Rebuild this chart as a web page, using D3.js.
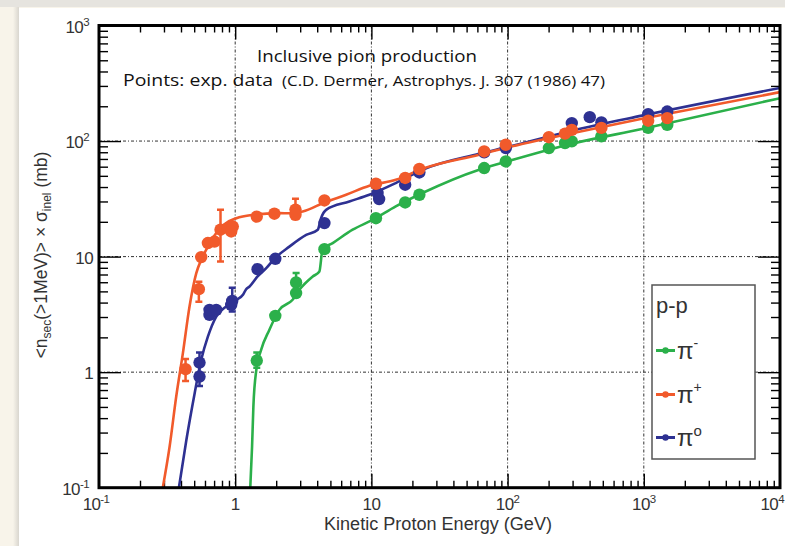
<!DOCTYPE html>
<html><head><meta charset="utf-8">
<script src="https://cdn.jsdelivr.net/npm/d3@7"></script>
<style>body{margin:0;background:#f8f4ea;overflow:hidden} svg{display:block}</style>
</head><body><svg id="c" width="785" height="546"></svg>
<script>
// ---------- DATA ----------
const xTickValues = [0.1, 1, 10, 100, 1000, 10000];
const xTickLabels = [["10","-1"],["1",""],["10",""],["10","2"],["10","3"],["10","4"]];
const yTickValues = [0.1, 1, 10, 100, 1000];
const yTickLabels = [["10","-1"],["1",""],["10",""],["10","2"],["10","3"]];

// model curves (kinetic energy GeV, value mb)
const piPlusCurveE  = [0.294,0.330,0.369,0.413,0.462,0.518,0.563,0.630,0.726,0.859,1.02,1.35,2.11,2.50,3.13,4.52,6.52,9.66,15.1,23.7,61.8,97.5,297,968,10000];
const piPlusCurveV  = [0.1,0.227,0.615,1.46,3.70,7.20,9.38,12.2,16.0,19.5,21.5,23.0,23.8,23.7,24.6,29.4,34.3,41.0,46.2,57.5,76.1,87.5,117,156,265];
const piZeroCurveE  = [0.386,0.438,0.504,0.563,0.630,0.726,0.859,1.02,1.14,1.20,1.27,1.46,1.69,1.96,2.50,3.32,4.04,4.27,4.65,6.89,9.66,15.1,23.7,61.8,97.5,297,968,10000];
const piZeroCurveV  = [0.1,0.259,0.658,1.28,2.03,3.03,3.70,4.23,4.67,5.2,5.48,6.73,7.94,9.71,12.2,15.4,17.1,21.5,25.4,30.0,34.3,43.3,56.5,77.6,88.3,123,166,288];
const piMinusCurveE = [1.29,1.33,1.36,1.43,1.55,1.78,2.11,2.64,2.96,3.71,4.15,4.38,5.20,7.28,10.2,15.1,23.7,61.8,97.5,297,968,10000];
const piMinusCurveV = [0.1,0.227,0.504,1.05,1.56,2.32,3.46,4.23,5.16,6.73,7.43,11.5,13.1,17.1,20.8,27.2,35.5,56.5,66.2,94.8,127,235];

// experimental points
const piPlusE  = [0.432,0.541,0.563,0.630,0.705,0.780,0.883,0.960,0.935,1.44,1.94,2.77,2.77,4.52,10.8,17.7,22.5,67.3,97.0,201,264,296,488,1077,1486];
const piPlusV  = [1.06,5.23,9.9,13.1,13.5,17.1,17.7,18.2,16.5,22.2,23.5,25.5,23.0,30.6,42.7,47.9,57.3,81.3,92.9,108,116,125,130,150,158];
const piPlusErrE  = [0.432,0.541,0.780,2.77];
const piPlusErrLo = [0.84,4.06,9.07,21.2];
const piPlusErrHi = [1.30,6.05,25.4,31.7];

const piZeroE  = [0.547,0.547,0.648,0.648,0.726,0.951,0.935,1.46,1.97,4.52,11.1,11.4,17.7,22.5,67.3,97,296,401,488,1077,1486];
const piZeroV  = [1.21,0.916,3.13,3.46,3.46,4.14,3.83,7.79,9.57,19.5,35.5,31.5,41.9,53.5,80,86.9,143,161,145,171,180];
const piZeroErrE  = [0.547,0.951,401];
const piZeroErrLo = [0.76,3.35,150];
const piZeroErrHi = [1.48,5.37,172];

const piMinusE = [1.44,1.97,2.80,2.80,4.52,10.8,17.7,22.5,67.3,97,201,264,296,488,1077,1486];
const piMinusV = [1.26,3.07,5.97,4.83,11.6,21.5,29.4,34.3,58.4,66.6,86.9,96.1,99.3,110,130,138];
const piMinusErrE  = [1.44,2.80];
const piMinusErrLo = [1.09,5.5];
const piMinusErrHi = [1.48,7.2];

const colors = {minus:"#2bb04a", plus:"#f15a2b", zero:"#2e3192"};

// ---------- LAYOUT ----------
const X0 = 99, X1 = 780, Y0 = 25.5, Y1 = 487.7;
const svg = d3.select("#c");
const x = d3.scaleLog().domain([0.1, 1e4]).range([X0, X1]);
const y = d3.scaleLog().domain([0.1, 1000]).range([Y1, Y0]);

// background / panel
const defs = svg.append("defs");
const g1 = defs.append("linearGradient").attr("id","sh").attr("x1","0").attr("x2","1");
g1.append("stop").attr("offset","0").attr("stop-color","#f8f4ea");
g1.append("stop").attr("offset","1").attr("stop-color","#d9d6cf");
defs.append("clipPath").attr("id","plot").append("rect")
  .attr("x",X0).attr("y",Y0).attr("width",X1-X0).attr("height",Y1-Y0);

svg.append("rect").attr("width",785).attr("height",546).attr("fill","#f8f4ea");
svg.append("rect").attr("width",785).attr("height",7).attr("fill","#e6e4df");
svg.append("rect").attr("x",13).attr("y",7).attr("width",6).attr("height",539).attr("fill","url(#sh)");
svg.append("rect").attr("x",19).attr("y",8).attr("width",766).attr("height",538).attr("fill","#ffffff");

// grid lines
const gridX = xTickValues.filter(v => v > 0.1 && v < 1e4);
const gridY = yTickValues.filter(v => v > 0.1 && v < 1000);
svg.append("g").selectAll("line").data(gridX).join("line")
  .attr("x1", d => x(d)).attr("x2", d => x(d)).attr("y1", Y0).attr("y2", Y1)
  .attr("stroke","#333").attr("stroke-width",1).attr("stroke-dasharray","3,2,1,2");
svg.append("g").selectAll("line").data(gridY).join("line")
  .attr("y1", d => y(d)).attr("y2", d => y(d)).attr("x1", X0).attr("x2", X1)
  .attr("stroke","#333").attr("stroke-width",1).attr("stroke-dasharray","3,2,1,2");

// ticks
const minorX = [], minorY = [];
for (let d = -1; d < 4; d++) for (let k = 2; k <= 9; k++) minorX.push(k * Math.pow(10, d));
for (let d = -1; d < 3; d++) for (let k = 2; k <= 9; k++) minorY.push(k * Math.pow(10, d));
function styleAxis(g){ g.select(".domain").remove(); g.selectAll("line").attr("stroke","#000").attr("stroke-width",1.4); }
svg.append("g").attr("transform",`translate(0,${Y1})`).call(d3.axisBottom(x).tickValues(minorX).tickSize(-7).tickFormat("")).call(styleAxis);
svg.append("g").attr("transform",`translate(0,${Y1})`).call(d3.axisBottom(x).tickValues(gridX).tickSize(-14).tickFormat("")).call(styleAxis);
svg.append("g").attr("transform",`translate(0,${Y0})`).call(d3.axisTop(x).tickValues(minorX).tickSize(-7).tickFormat("")).call(styleAxis);
svg.append("g").attr("transform",`translate(0,${Y0})`).call(d3.axisTop(x).tickValues(gridX).tickSize(-14).tickFormat("")).call(styleAxis);
svg.append("g").attr("transform",`translate(${X0},0)`).call(d3.axisLeft(y).tickValues(minorY).tickSize(-9).tickFormat("")).call(styleAxis);
svg.append("g").attr("transform",`translate(${X0},0)`).call(d3.axisLeft(y).tickValues(gridY).tickSize(-22).tickFormat("")).call(styleAxis);
svg.append("g").attr("transform",`translate(${X1},0)`).call(d3.axisRight(y).tickValues(minorY).tickSize(-9).tickFormat("")).call(styleAxis);
svg.append("g").attr("transform",`translate(${X1},0)`).call(d3.axisRight(y).tickValues(gridY).tickSize(-22).tickFormat("")).call(styleAxis);

// tick labels
const lblFont = "'Liberation Sans', Arial, sans-serif";
xTickValues.forEach((v, i) => {
  const [b, s] = xTickLabels[i];
  const last = i === xTickValues.length - 1;
  const t = svg.append("text").attr("x", last ? 784 : x(v) + (s === "-1" ? -3 : 0)).attr("y", 510)
    .attr("text-anchor", last ? "end" : "middle").attr("font-family",lblFont).attr("font-size",17)
    .attr("letter-spacing","-0.6").attr("fill","#333");
  t.append("tspan").text(b);
  if (s) t.append("tspan").attr("dy",-7).attr("font-size",11.5).text(s);
});
yTickValues.forEach((v, i) => {
  const [b, s] = yTickLabels[i];
  const t = svg.append("text").attr("x", s ? 89 : 93).attr("y", y(v) + 7)
    .attr("text-anchor","end").attr("font-family",lblFont).attr("font-size",17)
    .attr("letter-spacing","-0.6").attr("fill","#333");
  t.append("tspan").text(b);
  if (s) t.append("tspan").attr("dy",-7).attr("font-size",11.5).text(s);
});

// axis titles
svg.append("text").attr("x", 438).attr("y", 530).attr("text-anchor","middle")
  .attr("font-family",lblFont).attr("font-size",17.5).attr("fill","#333")
  .attr("textLength",228).attr("lengthAdjust","spacingAndGlyphs")
  .text("Kinetic Proton Energy (GeV)");
const yl = svg.append("text").attr("transform","translate(47,255) rotate(-90)")
  .attr("text-anchor","middle").attr("font-family",lblFont).attr("font-size",17.5).attr("fill","#333");
yl.append("tspan").text("<n");
yl.append("tspan").attr("font-size",12).attr("dy",4).text("sec");
yl.append("tspan").attr("dy",-4).text("(>1MeV)> × σ");
yl.append("tspan").attr("font-size",12).attr("dy",4).text("inel");
yl.append("tspan").attr("dy",-4).text(" (mb)");

// curves
const line = d3.line().x(d => x(d[0])).y(d => y(d[1])).curve(d3.curveMonotoneX);
const plot = svg.append("g").attr("clip-path","url(#plot)");
function drawCurve(cE, cV, col){
  plot.append("path").datum(cE.map((e,i)=>[e,cV[i]])).attr("d", line)
    .attr("fill","none").attr("stroke",col).attr("stroke-width",2.6);
}
function drawPoints(pE, pV, eE, eLo, eHi, col){
  const g = plot.append("g");
  eE.forEach((e,i) => {
    const px = x(e);
    g.append("line").attr("x1",px).attr("x2",px).attr("y1",y(eLo[i])).attr("y2",y(eHi[i]))
      .attr("stroke",col).attr("stroke-width",2.5);
    [eLo[i], eHi[i]].forEach(v => g.append("line").attr("x1",px-3.5).attr("x2",px+3.5)
      .attr("y1",y(v)).attr("y2",y(v)).attr("stroke",col).attr("stroke-width",2.5));
  });
  g.selectAll("circle").data(pE.map((e,i)=>[e,pV[i]])).join("circle")
    .attr("cx", d => x(d[0])).attr("cy", d => y(d[1])).attr("r",6.2).attr("fill",col);
}
drawCurve(piMinusCurveE, piMinusCurveV, colors.minus);
drawCurve(piZeroCurveE, piZeroCurveV, colors.zero);
drawCurve(piPlusCurveE, piPlusCurveV, colors.plus);
drawPoints(piMinusE, piMinusV, piMinusErrE, piMinusErrLo, piMinusErrHi, colors.minus);
drawPoints(piZeroE, piZeroV, piZeroErrE, piZeroErrLo, piZeroErrHi, colors.zero);
drawPoints(piPlusE, piPlusV, piPlusErrE, piPlusErrLo, piPlusErrHi, colors.plus);

// frame
svg.append("rect").attr("x",X0).attr("y",Y0).attr("width",X1-X0).attr("height",Y1-Y0)
  .attr("fill","none").attr("stroke","#000").attr("stroke-width",3);

// titles
const tFont = "'Open Sans', 'Noto Sans', sans-serif";
svg.append("text").attr("x",367).attr("y",62).attr("text-anchor","middle")
  .attr("font-family",tFont).attr("font-size",17).attr("fill","#111")
  .attr("textLength",220).attr("lengthAdjust","spacingAndGlyphs").text("Inclusive pion production");
svg.append("text").attr("x",123).attr("y",86).attr("font-family",tFont).attr("font-size",17).attr("fill","#111")
  .attr("textLength",150).attr("lengthAdjust","spacingAndGlyphs").text("Points: exp. data");
svg.append("text").attr("x",282).attr("y",86).attr("font-family",tFont).attr("font-size",14.5).attr("fill","#111")
  .attr("textLength",323).attr("lengthAdjust","spacingAndGlyphs").text("(C.D. Dermer, Astrophys. J. 307 (1986) 47)");

// legend
const legendNames = ["-", "+", "o"];
const legendColors = [colors.minus, colors.plus, colors.zero];
const legendY = [350.5, 394.5, 437.5];
svg.append("rect").attr("x",652).attr("y",285).attr("width",103).attr("height",174)
  .attr("fill","#fff").attr("stroke","#555").attr("stroke-width",1.5);
svg.append("text").attr("x",656).attr("y",313).attr("font-family",lblFont).attr("font-size",22)
  .attr("fill","#333").text("p-p");
legendNames.forEach((n,i) => {
  const yy = legendY[i];
  svg.append("line").attr("x1",656).attr("x2",675).attr("y1",yy).attr("y2",yy)
    .attr("stroke",legendColors[i]).attr("stroke-width",3);
  svg.append("circle").attr("cx",665.5).attr("cy",yy).attr("r",3.2).attr("fill",legendColors[i]);
  const t = svg.append("text").attr("x",677).attr("y",yy+8).attr("font-family",lblFont)
    .attr("font-size",24).attr("fill","#333");
  t.append("tspan").text("π");
  t.append("tspan").attr("dy", n === "o" ? -10 : -11).attr("font-size", n === "o" ? 15 : 14).text(n);
});
</script></body></html>
